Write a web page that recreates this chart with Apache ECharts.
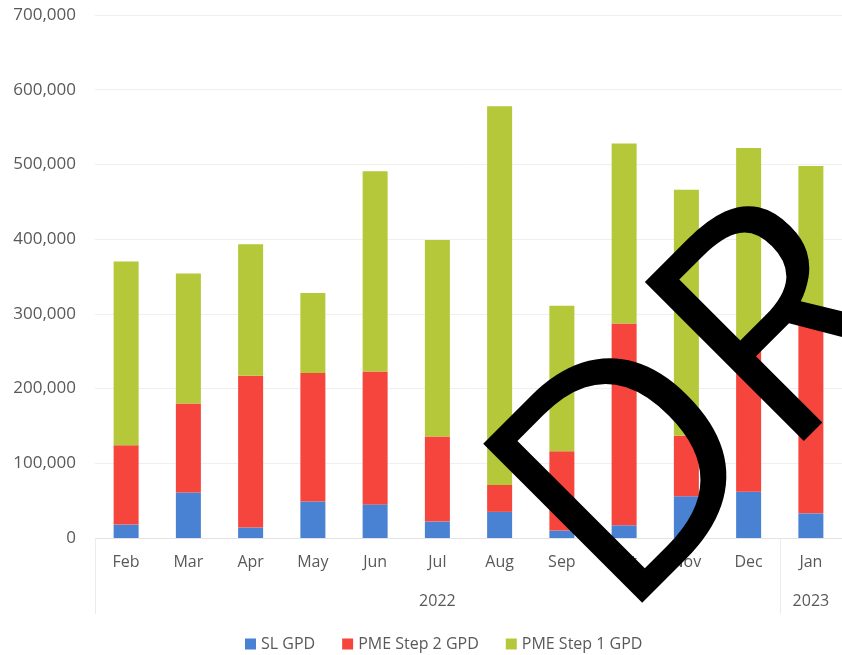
<!DOCTYPE html>
<html><head><meta charset="utf-8">
<script src="https://cdn.jsdelivr.net/npm/echarts@6/dist/echarts.min.js"></script>
<style>html,body{margin:0;padding:0;background:#fff}#c{width:842px;height:655px}</style>
</head><body><div id="c"></div>
<script>
const months = ['Feb','Mar','Apr','May','Jun','Jul','Aug','Sep','Oct','Nov','Dec','Jan'];
const years = ['2022','2023'];
const yearSpans = [[0,11],[11,12]];
const slGPD = [18000,61000,14000,49000,45000,22000,35000,10000,17000,56000,62000,33000];
const pmeStep2 = [106000,119000,203000,172000,178000,114000,36000,106000,270000,81000,198000,269000];
const pmeStep1 = [246000,174000,176000,107000,268000,263000,507000,195000,241000,329000,262000,196000];
const yTicks = [0,100000,200000,300000,400000,500000,600000,700000];
const stampText = 'DR';

const FONT = '"Open Sans", sans-serif';
const GREY = '#595959';
const chart = echarts.init(document.getElementById('c'), null, {renderer:'canvas'});
const yearCenters = yearSpans.map(s => (s[0]+s[1])/2);
const yearBounds = [0].concat(yearSpans.map(s => s[1]));

chart.setOption({
  animation:false,
  backgroundColor:'#fff',
  grid:{left:95, top:15, width:757, height:523},
  legend:{
    left:240, top:631, itemWidth:11, itemHeight:11, itemGap:27, icon:'rect',
    textStyle:{color:GREY, fontFamily:FONT, fontSize:16},
    data:['SL GPD','PME Step 2 GPD','PME Step 1 GPD']
  },
  xAxis:[{
    type:'category', data:months,
    axisLine:{show:true, lineStyle:{color:'#e3e3e3'}},
    axisTick:{show:false},
    axisLabel:{color:GREY, fontFamily:FONT, fontSize:16, margin:16}
  },{
    type:'value', min:0, max:12, position:'bottom',
    axisLine:{show:false}, splitLine:{show:false},
    axisTick:{show:true, customValues:yearBounds, length:76, lineStyle:{color:'#ececec'}},
    axisLabel:{show:true, customValues:yearCenters, margin:55, color:GREY, fontFamily:FONT, fontSize:16,
      formatter:(v)=>{const i=yearCenters.indexOf(v);return i>=0?years[i]:'';}}
  }],
  yAxis:{
    type:'value', min:0, max:700000, interval:100000,
    axisLine:{show:false}, axisTick:{show:false},
    splitLine:{lineStyle:{color:'#efefef'}},
    axisLabel:{color:GREY, fontFamily:FONT, fontSize:17, margin:19,
      formatter:(v)=>v.toLocaleString('en-US'),
      customValues:yTicks}
  },
  series:[
    {name:'SL GPD', type:'bar', stack:'t', barWidth:25, data:slGPD, itemStyle:{color:'#4a82d3'}},
    {name:'PME Step 2 GPD', type:'bar', stack:'t', barWidth:25, data:pmeStep2, itemStyle:{color:'#f5453c'}},
    {name:'PME Step 1 GPD', type:'bar', stack:'t', barWidth:25, data:pmeStep1, itemStyle:{color:'#b4c83a'}}
  ],
  graphic:[{
    type:'text', x:557, y:561, rotation:Math.PI/4, z:100,
    style:{text:stampText, fill:'#000', fontFamily:'"Open Sans"', fontWeight:'normal', fontSize:315,
      textAlign:'left', textVerticalAlign:'middle'}
  }]
});
</script></body></html>
